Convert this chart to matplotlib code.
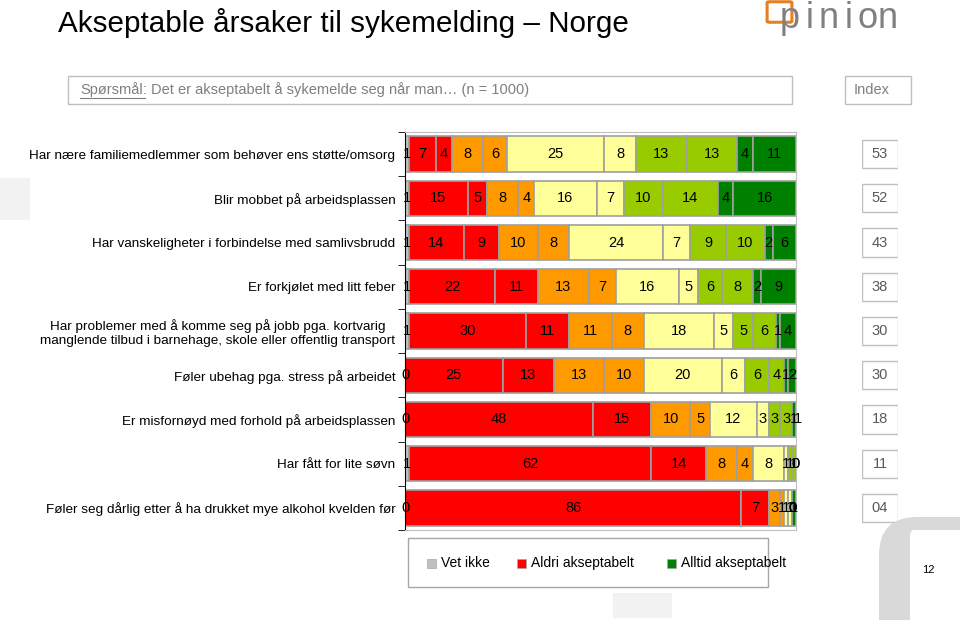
import matplotlib
matplotlib.use("Agg")
from matplotlib import pyplot as plt
from matplotlib.patches import Rectangle, FancyBboxPatch, PathPatch
from matplotlib.path import Path
import numpy as np

plt.rcParams['font.family'] = ['Liberation Sans', 'DejaVu Sans']

# Data
questions = [
    "Har nære familiemedlemmer som behøver ens støtte/omsorg",
    "Blir mobbet på arbeidsplassen",
    "Har vanskeligheter i forbindelse med samlivsbrudd",
    "Er forkjølet med litt feber",
    "Har problemer med å komme seg på jobb pga. kortvarig\nmanglende tilbud i barnehage, skole eller offentlig transport",
    "Føler ubehag pga. stress på arbeidet",
    "Er misfornøyd med forhold på arbeidsplassen",
    "Har fått for lite søvn",
    "Føler seg dårlig etter å ha drukket mye alkohol kvelden før",
]
# columns: Vet ikke, 1 (Aldri akseptabelt) ... 10 (Alltid akseptabelt)
vet_ikke = [1, 1, 1, 1, 1, 0, 0, 1, 0]
s1 = [7, 15, 14, 22, 30, 25, 48, 62, 86]
s2 = [4, 5, 9, 11, 11, 13, 15, 14, 7]
s3 = [8, 8, 10, 13, 11, 13, 10, 8, 3]
s4 = [6, 4, 8, 7, 8, 10, 5, 4, 1]
s5 = [25, 16, 24, 16, 18, 20, 12, 8, 1]
s6 = [8, 7, 7, 5, 5, 6, 3, 1, 1]
s7 = [13, 10, 9, 6, 5, 6, 3, 1, 0]
s8 = [13, 14, 10, 8, 6, 4, 3, 1, 0]
s9 = [4, 4, 2, 2, 1, 1, 1, 0, 0]
s10 = [11, 16, 6, 9, 4, 2, 1, 0, 1]
index_values = ["53", "52", "43", "38", "30", "30", "18", "11", "04"]

series = [vet_ikke, s1, s2, s3, s4, s5, s6, s7, s8, s9, s10]
colors = ["#c0c0c0", "#ff0000", "#ff0000", "#ff9900", "#ff9900", "#ffff99",
          "#ffff99", "#99cc00", "#99cc00", "#008000", "#008000"]

W, H = 960, 620
fig = plt.figure(figsize=(W / 100, H / 100), dpi=100)

def fx(px):
    return px / W

def fy(py):
    return 1 - py / H

# Main bar axes
ax = fig.add_axes([fx(405), fy(530), fx(796 - 405), (530 - 132) / H])
y = np.arange(len(questions))
left = np.zeros(len(questions))
for vals, col in zip(series, colors):
    vals = np.array(vals)
    ax.barh(y, vals, left=left, height=0.8, color=col, edgecolor="#a0a0a0", linewidth=1.2)
    for i, v in enumerate(vals):
        ax.text(left[i] + v / 2, y[i], str(v), ha="center", va="center", fontsize=10.5, color="black")
    left += vals

ax.set_xlim(0, 100)
ax.set_ylim(len(questions) - 0.5, -0.5)
ax.set_xticks([])
ax.set_yticks(y)
ax.set_yticklabels(questions, fontsize=9.7, multialignment="center")
ax.tick_params(axis="y", which="major", length=0, pad=7)
ax.set_yticks(np.arange(-0.5, len(questions), 1), minor=True)
ax.tick_params(axis="y", which="minor", length=5, direction="out", color="black")
for s in ["top", "right", "bottom"]:
    ax.spines[s].set_color("#bfbfbf")
ax.spines["left"].set_color("black")

# Index column
ax_idx = fig.add_axes([fx(862), fy(530), fx(36), (530 - 132) / H])
ax_idx.set_xlim(0, 1)
ax_idx.set_ylim(len(questions) - 0.5, -0.5)
ax_idx.axis("off")
for i, v in enumerate(index_values):
    ax_idx.add_patch(Rectangle((0, i - 0.32), 1, 0.64, facecolor="white", edgecolor="#bfbfbf", linewidth=1))
    ax_idx.text(0.5, i, v, ha="center", va="center", fontsize=10.5, color="#595959")

# Title
fig.text(fx(58), fy(23), "Akseptable årsaker til sykemelding – Norge", fontsize=21.3, va="center", ha="left")

# Question box
fig.patches.append(Rectangle((fx(68), fy(104)), fx(792 - 68), (104 - 76) / H, transform=fig.transFigure,
                             facecolor="white", edgecolor="#bfbfbf", linewidth=1))
fig.text(fx(80), fy(90), "Spørsmål:", fontsize=10.5, color="#7f7f7f", va="center", ha="left")
fig.text(fx(151), fy(90), "Det er akseptabelt å sykemelde seg når man… (n = 1000)", fontsize=10.5,
         color="#7f7f7f", va="center", ha="left")
fig.lines.append(plt.Line2D([fx(80), fx(145)], [fy(98), fy(98)], transform=fig.transFigure, color="#7f7f7f", lw=0.8))
fig.patches.append(Rectangle((fx(845), fy(104)), fx(911 - 845), (104 - 76) / H, transform=fig.transFigure,
                             facecolor="white", edgecolor="#bfbfbf", linewidth=1))
fig.text(fx(872), fy(90), "Index", fontsize=10.5, color="#7f7f7f", va="center", ha="center")

# Legend
fig.patches.append(Rectangle((fx(408), fy(587)), fx(768 - 408), (587 - 538) / H, transform=fig.transFigure,
                             facecolor="white", edgecolor="#a6a6a6", linewidth=1))
legend_items = [("Vet ikke", "#c0c0c0", 427), ("Aldri akseptabelt", "#ff0000", 517), ("Alltid akseptabelt", "#008000", 667)]
for name, col, px in legend_items:
    fig.patches.append(Rectangle((fx(px), fy(568)), fx(9), 9 / H, transform=fig.transFigure,
                                 facecolor=col, edgecolor="#a6a6a6", linewidth=0.5))
    fig.text(fx(px + 14), fy(563), name, fontsize=10, va="center", ha="left")

# Decorative shapes
fig.patches.append(Rectangle((0, fy(220)), fx(30), 42 / H, transform=fig.transFigure, facecolor="#f2f2f2", edgecolor="none"))
fig.patches.append(Rectangle((fx(613), fy(618)), fx(59), 25 / H, transform=fig.transFigure, facecolor="#f2f2f2", edgecolor="none"))
verts = [(879, 620), (879, 555), (879, 517), (917, 517), (960, 517), (960, 530),
         (914, 530), (910, 530), (910, 536), (910, 620), (879, 620)]
codes = [Path.MOVETO, Path.LINETO, Path.CURVE3, Path.CURVE3, Path.LINETO, Path.LINETO,
         Path.LINETO, Path.CURVE3, Path.CURVE3, Path.LINETO, Path.CLOSEPOLY]
arc = Path([(fx(a), fy(b)) for a, b in verts], codes)
fig.patches.append(PathPatch(arc, transform=fig.transFigure, facecolor="#d9d9d9", edgecolor="none"))
fig.text(fx(928), fy(570), "12", fontsize=8, va="center", ha="center")

# Logo: widely spaced letters
for k, ch in enumerate("pinion"):
    fig.text(fx(790 + 19.5 * k), fy(28), ch, fontsize=26, color="#808080", va="baseline", ha="center")
fig.patches.append(FancyBboxPatch((fx(769), fy(21)), fx(21), 18 / H, transform=fig.transFigure,
                                  boxstyle="round,pad=0.002", facecolor="none", edgecolor="#e87f1e", linewidth=2.2))

fig.savefig("out.png", dpi=100)
